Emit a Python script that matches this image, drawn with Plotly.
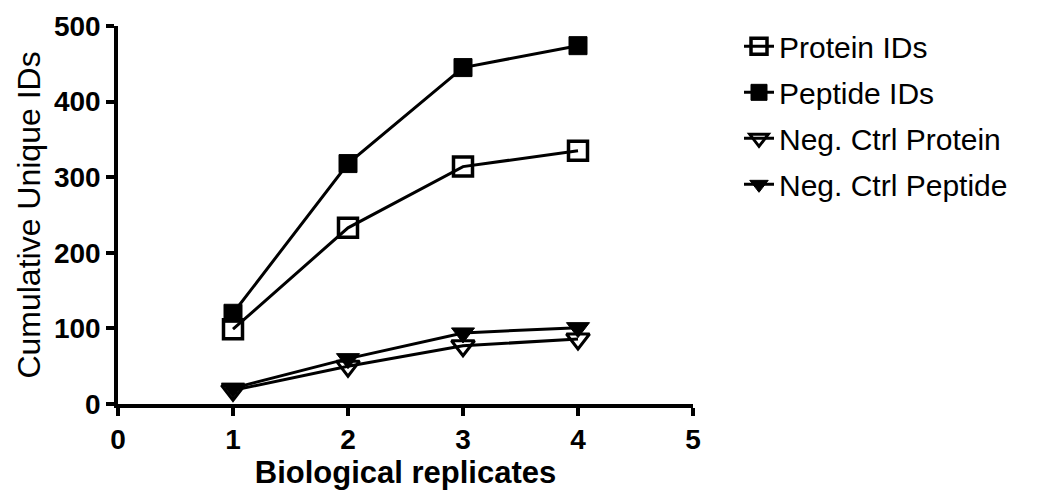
import plotly.graph_objects as go

x_vals = [1, 2, 3, 4]
protein_ids = [99, 233, 314, 335]
peptide_ids = [120, 318, 445, 474]
neg_ctrl_protein = [18, 50, 77, 86]
neg_ctrl_peptide = [21, 60, 94, 101]

x_ticks = [0, 1, 2, 3, 4, 5]
y_ticks = [0, 100, 200, 300, 400, 500]

series = [
    ("Protein IDs", protein_ids, "square-open", 19, 3.5),
    ("Peptide IDs", peptide_ids, "square", 18, 1),
    ("Neg. Ctrl Protein", neg_ctrl_protein, "triangle-down-open", 20, 3),
    ("Neg. Ctrl Peptide", neg_ctrl_peptide, "triangle-down", 20, 1),
]

fig = go.Figure()
for i, (name, vals, sym, sz, lw) in enumerate(series):
    fig.add_trace(go.Scatter(
        x=x_vals, y=vals, name=name, mode="lines+markers",
        line=dict(color="black", width=3),
        marker=dict(symbol=sym, size=sz, color="black",
                    line=dict(color="black", width=lw)),
        cliponaxis=False, legendgroup=f"g{i}",
    ))

axis_common = dict(
    showline=True, linecolor="black", linewidth=3.5,
    ticks="outside", ticklen=8, tickwidth=3.5, tickcolor="black",
    showgrid=False, zeroline=False, automargin=False,
    tickfont=dict(family="Liberation Sans, Arial", size=28, color="black", weight="bold"),
)

fig.update_layout(
    width=1041, height=494,
    margin=dict(l=110, r=356, t=12, b=98),
    plot_bgcolor="white", paper_bgcolor="white",
    xaxis=dict(range=[0, 5], tickvals=x_ticks,
               title=dict(text="<b>Biological replicates</b>", standoff=4,
                          font=dict(family="Liberation Sans, Arial", size=31, color="black")),
               **axis_common),
    yaxis=dict(range=[0, 500], tickvals=y_ticks,
               title=dict(text="Cumulative Unique IDs", standoff=5,
                          font=dict(family="Liberation Sans, Arial", size=32, color="black")),
               **axis_common),
    legend=dict(x=1.08, y=1.015, xanchor="left", yanchor="top",
                font=dict(family="Liberation Sans, Arial", size=30, color="black"),
                tracegroupgap=4, bgcolor="rgba(0,0,0,0)"),
    showlegend=True,
)

fig.write_html("out.html")
